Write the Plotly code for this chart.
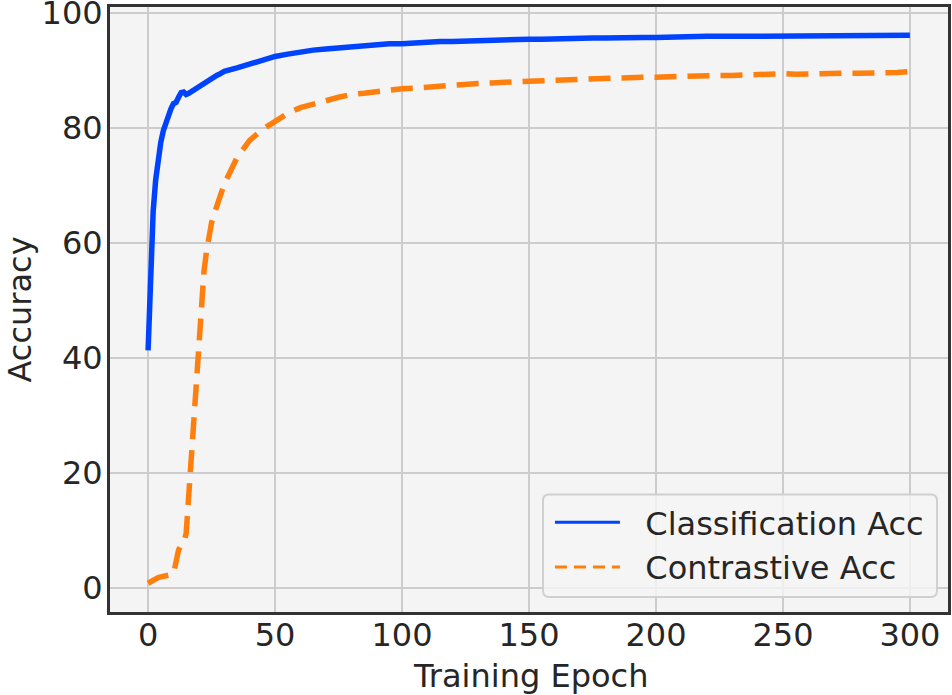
import plotly.graph_objects as go

epochs_early = list(range(0, 31))
epochs_late = list(range(35, 301, 5))
epochs = epochs_early + epochs_late

cls_acc = [
    41.3, 55.0, 65.5, 71.0, 75.0, 77.5, 79.5, 81.0, 82.3, 83.3,
    84.2, 84.4, 85.3, 86.1, 86.2, 85.8, 86.0, 86.3, 86.6, 86.8,
    87.0, 87.4, 87.6, 88.0, 88.3, 88.5, 88.8, 89.1, 89.3, 89.6,
    89.8,
    90.4, 91.1, 91.8, 92.4, 92.8, 93.2, 93.5, 93.7, 93.9, 94.1,
    94.2, 94.4, 94.6, 94.6, 94.8, 94.9, 95.0, 95.0, 95.1, 95.1,
    95.1, 95.3, 95.3, 95.4, 95.4, 95.5, 95.4, 95.6, 95.6, 95.6,
    95.7, 95.6, 95.7, 95.7, 95.8, 95.7, 95.8, 95.9, 95.9, 95.8,
    95.9, 95.9, 95.9, 96.0, 96.1, 95.9, 96.0, 96.0, 96.0, 96.0,
    96.0, 96.0, 96.0, 96.1,
]

con_acc = [
    0.8, 1.1, 1.4, 1.6, 1.8, 1.9, 2.0, 2.1, 2.2, 2.3,
    2.4, 4.5, 6.6, 7.4, 7.8, 9.5, 16.0, 25.0, 32.0, 38.5,
    45.0, 51.0, 55.0, 58.5, 61.5, 63.5, 65.0, 66.5, 68.0, 69.2,
    70.2,
    74.8, 77.8, 79.7, 81.2, 82.5, 83.5, 84.2, 84.7, 85.3, 85.8,
    86.0, 86.3, 86.6, 86.8, 86.9, 87.1, 87.3, 87.4, 87.6, 87.7,
    87.8, 87.8, 88.0, 88.1, 88.2, 88.3, 88.4, 88.5, 88.6, 88.7,
    88.6, 88.7, 88.8, 88.8, 88.9, 89.0, 89.0, 89.0, 89.1, 89.1,
    89.2, 89.2, 89.3, 89.4, 89.3, 89.4, 89.4, 89.4, 89.5, 89.5,
    89.5, 89.6, 89.6, 89.8,
]

x_ticks = [0, 50, 100, 150, 200, 250, 300]
y_ticks = [0, 20, 40, 60, 80, 100]

BLUE = "#0043ff"
ORANGE = "#ff7f0e"
FONT = "DejaVu Sans"
TXT = "#262626"

fig = go.Figure()
fig.add_trace(go.Scatter(x=epochs, y=cls_acc, mode="lines", showlegend=False,
                         line=dict(color=BLUE, width=5.5)))
fig.add_trace(go.Scatter(x=epochs, y=con_acc, mode="lines", showlegend=False,
                         line=dict(color=ORANGE, width=5.5, dash="22px,11px")))
# legend samples (thinner lines, as in the reference legend)
fig.add_trace(go.Scatter(x=[None], y=[None], mode="lines",
                         name="\u00a0\u00a0Classification Acc",
                         line=dict(color=BLUE, width=3)))
fig.add_trace(go.Scatter(x=[None], y=[None], mode="lines",
                         name="\u00a0\u00a0Contrastive Acc",
                         line=dict(color=ORANGE, width=3, dash="12px,7px")))

axis_common = dict(
    showgrid=True, gridcolor="#cccccc", gridwidth=2,
    showline=True, linecolor="#333333", linewidth=3, mirror=True,
    ticks="", zeroline=False, automargin=False, ticklabeloverflow="allow",
    tickfont=dict(family=FONT, size=32, color=TXT),
)

# rounded legend frame (paper coordinates)
x0, x1, y0, y1 = 0.5167, 0.9869, 0.0247, 0.1944
rx, ry = 0.0075, 0.0103
legend_path = (
    f"M{x0+rx},{y0} L{x1-rx},{y0} Q{x1},{y0} {x1},{y0+ry} "
    f"L{x1},{y1-ry} Q{x1},{y1} {x1-rx},{y1} "
    f"L{x0+rx},{y1} Q{x0},{y1} {x0},{y1-ry} "
    f"L{x0},{y0+ry} Q{x0},{y0} {x0+rx},{y0} Z"
)

fig.update_layout(
    width=952, height=695,
    margin=dict(l=110, r=4, t=7, b=83),
    paper_bgcolor="white", plot_bgcolor="#f4f4f4",
    font=dict(family=FONT, size=32, color=TXT),
    xaxis=dict(range=[-15, 315], tickvals=x_ticks, ticklabelstandoff=-7, **axis_common),
    yaxis=dict(range=[-4.2, 101], tickvals=y_ticks, ticklabelstandoff=-2, **axis_common),
    legend=dict(x=0.525, y=0.028, xanchor="left", yanchor="bottom",
                bgcolor="rgba(0,0,0,0)", borderwidth=0,
                font=dict(family=FONT, size=32, color=TXT), itemwidth=65,
                tracegroupgap=4),
    shapes=[dict(type="path", xref="paper", yref="paper", path=legend_path,
                 fillcolor="rgba(245,245,245,0.8)", line=dict(color="#d0d0d0", width=2),
                 layer="above")],
    annotations=[
        dict(text="Training Epoch", xref="paper", yref="paper", x=0.502, y=0,
             yshift=-64, xanchor="center", yanchor="middle", showarrow=False,
             font=dict(family=FONT, size=32, color=TXT)),
        dict(text="Accuracy", xref="paper", yref="paper", x=0, xshift=-91, y=0.5,
             xanchor="center", yanchor="middle", textangle=-90, showarrow=False,
             font=dict(family=FONT, size=32, color=TXT)),
    ],
)

fig.write_html("out.html", config={"displayModeBar": False},
               post_script="document.body.style.margin='0';")
